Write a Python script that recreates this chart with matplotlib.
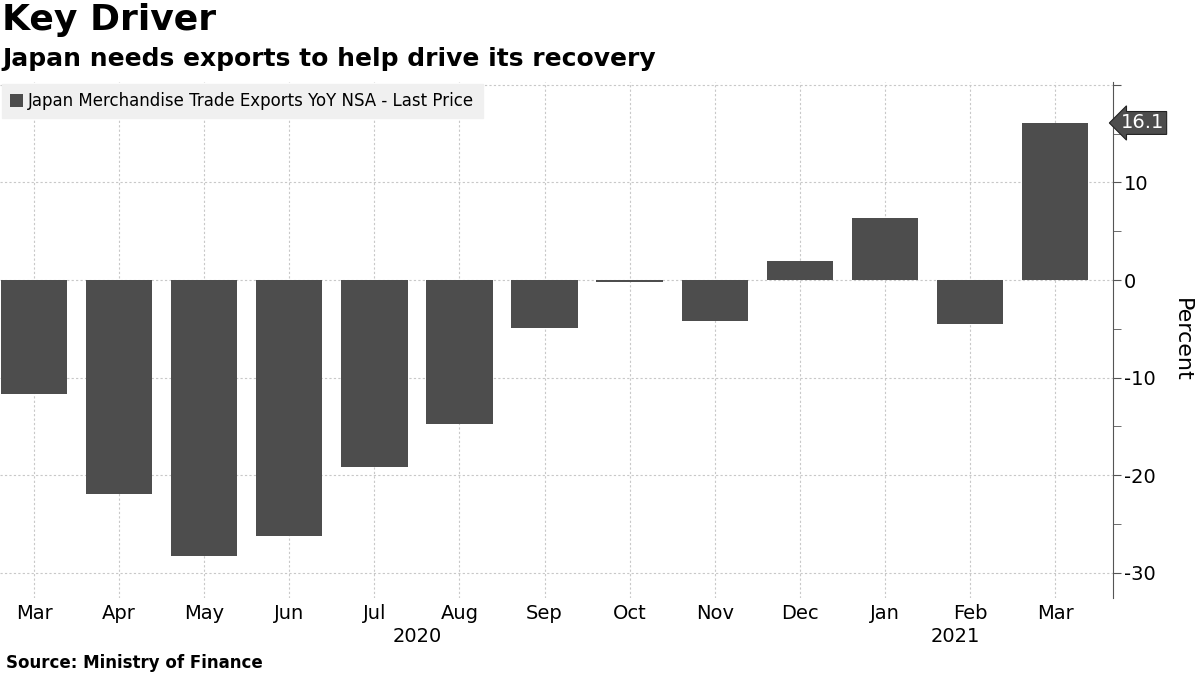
import matplotlib.pyplot as plt
import numpy as np

# dane
mjeseci = ['Mar', 'Apr', 'May', 'Jun', 'Jul', 'Aug', 'Sep', 'Oct', 'Nov', 'Dec', 'Jan', 'Feb', 'Mar']
izvoz = [-11.7, -21.9, -28.3, -26.2, -19.2, -14.8, -4.9, -0.2, -4.2, 2.0, 6.4, -4.5, 16.1]
godine = ['2020', '2021']
godine_poz = [4.5, 10.83]
y_tick = [-30, -20, -10, 0, 10, 20]
y_tick_labele = ['-30', '-20', '-10', '0', '10', '']

boja = '#4d4d4d'

fig = plt.figure(figsize=(12, 6.75), dpi=100)
ax = fig.add_axes([0.0, 77 / 675, 1113 / 1200, 516 / 675])

x = np.arange(len(izvoz))
ax.bar(x, izvoz, width=0.78, color=boja, zorder=3, label='Japan Merchandise Trade Exports YoY NSA - Last Price')

ax.set_xlim(-0.4, 12.68)
ax.set_ylim(-32.6, 20.3)

# osi
for s in ['left', 'top', 'bottom']:
    ax.spines[s].set_visible(False)
ax.spines['right'].set_color('#555555')
ax.yaxis.tick_right()
ax.set_yticks(y_tick)
ax.set_yticklabels(y_tick_labele, fontsize=14)
ax.set_yticks([-25, -15, -5, 5, 15], minor=True)
ax.tick_params(axis='y', which='both', direction='out', length=6, color='#555555', pad=2)
ax.set_xticks(x)
ax.set_xticklabels(mjeseci, fontsize=14)
ax.tick_params(axis='x', length=0, pad=4)

ax.grid(True, which='major', color='#c8c8c8', linestyle=(0, (2, 2)), linewidth=0.8, zorder=0)

ax.yaxis.set_label_position('right')
ax.set_ylabel('Percent', rotation=270, fontsize=16, labelpad=26)

for g, p in zip(godine, godine_poz):
    ax.text(p, -0.057, g, transform=ax.get_xaxis_transform(), ha='center', va='top', fontsize=14)

# oznaka zadnje vrijednosti
ax.annotate(f'{izvoz[-1]:.1f}', xy=(1.0, izvoz[-1]), xycoords=ax.get_yaxis_transform(),
            xytext=(6, 0), textcoords='offset points', ha='left', va='center',
            fontsize=14, color='white',
            bbox=dict(boxstyle='larrow,pad=0.1', fc=boja, ec='#222222', lw=0.8))

leg = ax.legend(loc='upper left', bbox_to_anchor=(0.0, 1.0), frameon=True,
                handlelength=0.8, handleheight=0.8, handletextpad=0.3, borderpad=0.5,
                borderaxespad=0.1, fancybox=False, prop={'size': 12})
leg.get_frame().set_facecolor('#f0f0f0')
leg.get_frame().set_edgecolor('#f0f0f0')
leg.get_frame().set_alpha(1)

fig.text(0.002, 0.995, 'Key Driver', fontsize=26, fontweight='bold', va='top', ha='left')
fig.text(0.002, 0.93, 'Japan needs exports to help drive its recovery', fontsize=18,
         fontweight='bold', va='top', ha='left')
fig.text(0.005, 0.005, 'Source: Ministry of Finance', fontsize=12, fontweight='bold',
         va='bottom', ha='left')

plt.savefig('out.png', dpi=100)
